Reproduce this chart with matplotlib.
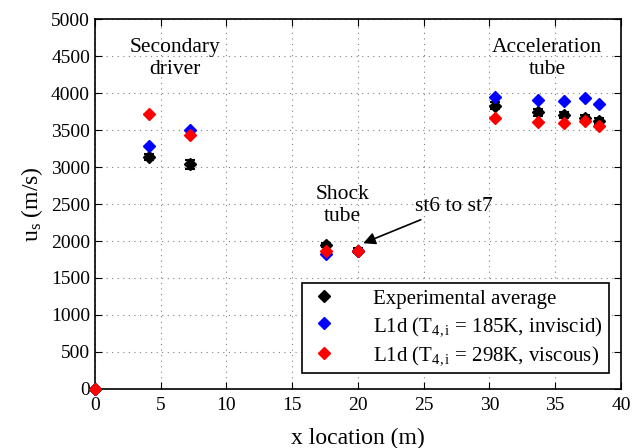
import matplotlib
matplotlib.use("Agg")
import matplotlib.pyplot as plt
from matplotlib.lines import Line2D

plt.rcParams['font.family'] = ['Liberation Serif', 'DejaVu Serif']
plt.rcParams['mathtext.fontset'] = 'custom'
plt.rcParams['mathtext.rm'] = 'Liberation Serif'
plt.rcParams['mathtext.it'] = 'Liberation Serif:italic'

# station positions (m) and shock speeds (m/s)
x_loc = [0, 4.1, 7.2, 17.6, 20.0, 30.4, 33.7, 35.7, 37.3, 38.3]
us_exp = [0, 3140, 3040, 1950, 1870, 3830, 3740, 3710, 3670, 3620]
us_err = [0, 40, 60, 30, 30, 50, 50, 40, 40, 40]
us_inviscid = [0, 3290, 3500, 1830, 1860, 3950, 3910, 3900, 3940, 3860]
us_viscous = [0, 3720, 3430, 1860, 1870, 3670, 3610, 3600, 3630, 3560]

labels = ['Experimental average',
          r'L1d (T$_{4,\mathrm{i}}$ = 185K, inviscid)',
          r'L1d (T$_{4,\mathrm{i}}$ = 298K, viscous)']
colors = ['black', 'blue', 'red']

fig = plt.figure(figsize=(6.33, 4.48), dpi=100)
ax = fig.add_axes([0.150, 0.132, 0.831, 0.825])

ax.errorbar(x_loc, us_exp, yerr=us_err, fmt='D', color='black', ms=6,
            capsize=3.5, elinewidth=1.5, capthick=1.5, zorder=3, clip_on=False)
ax.plot(x_loc, us_inviscid, 'D', color='blue', ms=6, zorder=4, clip_on=False)
ax.plot(x_loc, us_viscous, 'D', color='red', ms=6, zorder=5, clip_on=False)

ax.set_xlim(0, 40)
ax.set_ylim(0, 5000)
ax.set_xticks(range(0, 41, 5))
ax.set_yticks(range(0, 5001, 500))
ax.tick_params(direction='in', top=True, right=True, labelsize=14, length=5)
ax.tick_params(axis='x', pad=6)
ax.grid(True, linestyle=(0, (1, 4)), color='black', linewidth=0.8, alpha=0.5)
for s in ax.spines.values():
    s.set_linewidth(1.2)

ax.set_xlabel('x location (m)', fontsize=17, labelpad=10)
ax.set_ylabel(r'u$_\mathrm{s}$ (m/s)', fontsize=17)

# section labels
ax.text(6.1, 4190, 'Secondary\ndriver', ha='center', va='bottom', fontsize=15.5,
        linespacing=1.25)
ax.text(34.4, 4190, 'Acceleration\ntube', ha='center', va='bottom', fontsize=15.5,
        linespacing=1.2)
ax.text(18.8, 2210, 'Shock\ntube', ha='center', va='bottom', fontsize=15.5,
        linespacing=1.2)
ax.annotate('st6 to st7', xy=(20.4, 1970), xytext=(24.3, 2340),
            fontsize=15.5, ha='left', va='bottom',
            arrowprops=dict(arrowstyle='-|>', color='black', lw=1.2,
                            shrinkA=2, shrinkB=0, mutation_scale=18))

handles = [Line2D([], [], marker='D', ls='none', color=c, ms=6) for c in colors]
leg = ax.legend(handles, labels, loc='lower right', fontsize=15, fancybox=False,
                framealpha=1, edgecolor='black', handletextpad=1.6,
                borderpad=0.3, labelspacing=0.3, handlelength=1.5,
                bbox_to_anchor=(0.997, 0.015))
leg.get_frame().set_linewidth(1.2)

fig.savefig('out.png', dpi=100)
